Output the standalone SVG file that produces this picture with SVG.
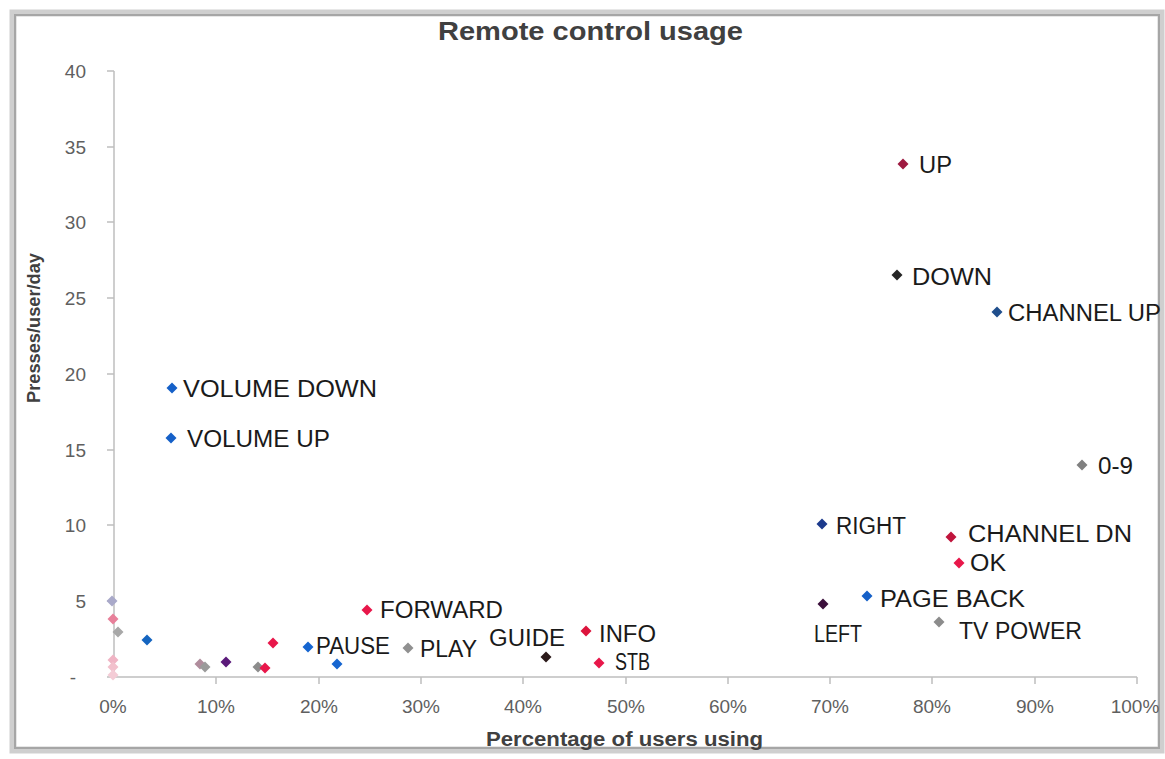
<svg xmlns="http://www.w3.org/2000/svg" width="1165" height="759" viewBox="0 0 1165 759">
<style>
.frame{fill:#ffffff;stroke:#cfcfcf;stroke-width:7}
.frame2{fill:none;stroke:#a6a6a6;stroke-width:2}
.axis{stroke:#bfbfbf;stroke-width:1.5;fill:none}
.tick{font-family:"Liberation Sans",Arial,sans-serif;font-size:19px;fill:#5f5f5f}
.ttl{font-family:"Liberation Sans",Arial,sans-serif;font-weight:bold;fill:#404040}
.lbl{font-family:"Liberation Sans",Arial,sans-serif;font-size:23px;fill:#1a1a1a}
</style>
<defs>
<path id="d" d="M0,-5.5 L5.5,0 L0,5.5 L-5.5,0 Z"/>
</defs>
<rect width="1165" height="759" fill="#ffffff"/>
<rect class="frame" x="13" y="13" width="1148" height="737"/>
<rect class="frame2" x="15" y="15" width="1144" height="733"/>
<text class="ttl" x="438" y="40" font-size="26" textLength="305" lengthAdjust="spacingAndGlyphs">Remote control usage</text>
<g id="axes">
<path class="axis" d="M114,71 V677 H1137"/>
<path class="axis" d="M107,71 H114 M107,147 H114 M107,222 H114 M107,298 H114 M107,374 H114 M107,450 H114 M107,525 H114 M107,601 H114 M107,677 H114"/>
<path class="axis" d="M216,677 V684 M319,677 V684 M421,677 V684 M523,677 V684 M626,677 V684 M728,677 V684 M830,677 V684 M932,677 V684 M1035,677 V684 M1137,677 V684"/>
<g class="tick" text-anchor="end">
<text x="86" y="78">40</text>
<text x="86" y="154">35</text>
<text x="86" y="229">30</text>
<text x="86" y="305">25</text>
<text x="86" y="381">20</text>
<text x="86" y="457">15</text>
<text x="86" y="532">10</text>
<text x="86" y="608">5</text>
<text x="76" y="684">-</text>
</g>
<g class="tick" text-anchor="middle">
<text x="113" y="713">0%</text>
<text x="216" y="713">10%</text>
<text x="319" y="713">20%</text>
<text x="421" y="713">30%</text>
<text x="523" y="713">40%</text>
<text x="626" y="713">50%</text>
<text x="728" y="713">60%</text>
<text x="830" y="713">70%</text>
<text x="932" y="713">80%</text>
<text x="1035" y="713">90%</text>
<text x="1135" y="713">100%</text>
</g>
<text class="ttl" x="486" y="746" font-size="20" textLength="277" lengthAdjust="spacingAndGlyphs">Percentage of users using</text>
<text class="ttl" x="40" y="328" font-size="18" text-anchor="middle" transform="rotate(-90 40 328)" textLength="150" lengthAdjust="spacingAndGlyphs">Presses/user/day</text>
</g>
<g id="unlabelled">
<use href="#d" x="112" y="601" fill="#a9a9c9"/>
<use href="#d" x="113" y="619" fill="#e8809a"/>
<use href="#d" x="118" y="632" fill="#a8a8a8"/>
<use href="#d" x="113" y="660" fill="#f0b4c4"/>
<use href="#d" x="113" y="667" fill="#f2c0cc"/>
<use href="#d" x="113" y="675" fill="#f4ccd6"/>
<use href="#d" x="147" y="640" fill="#1565c0"/>
<use href="#d" x="200" y="664" fill="#b08c9c"/>
<use href="#d" x="205" y="667" fill="#9a9a9a"/>
<use href="#d" x="226" y="662" fill="#5b1a7a"/>
<use href="#d" x="258" y="667" fill="#8c8c8c"/>
<use href="#d" x="265" y="668" fill="#e8174a"/>
<use href="#d" x="273" y="643" fill="#e8174a"/>
<use href="#d" x="337" y="664" fill="#1565d0"/>
</g>
<g id="node-up"><use href="#d" x="903" y="164" fill="#9e1a40"/><text class="lbl" x="919" y="173" textLength="33" lengthAdjust="spacingAndGlyphs">UP</text></g>
<g id="node-down"><use href="#d" x="897" y="275" fill="#262626"/><text class="lbl" x="912" y="285" textLength="80" lengthAdjust="spacingAndGlyphs">DOWN</text></g>
<g id="node-channel-up"><use href="#d" x="997" y="312" fill="#1f4e8c"/><text class="lbl" x="1008" y="321" textLength="153" lengthAdjust="spacingAndGlyphs">CHANNEL UP</text></g>
<g id="node-volume-down"><use href="#d" x="172" y="388" fill="#1560c8"/><text class="lbl" x="183" y="397" textLength="194" lengthAdjust="spacingAndGlyphs">VOLUME DOWN</text></g>
<g id="node-volume-up"><use href="#d" x="171" y="438" fill="#1560c8"/><text class="lbl" x="187" y="447" textLength="143" lengthAdjust="spacingAndGlyphs">VOLUME UP</text></g>
<g id="node-0-9"><use href="#d" x="1082" y="465" fill="#808080"/><text class="lbl" x="1098" y="474" textLength="35" lengthAdjust="spacingAndGlyphs">0-9</text></g>
<g id="node-right"><use href="#d" x="822" y="524" fill="#1c3a8c"/><text class="lbl" x="836" y="534" textLength="70" lengthAdjust="spacingAndGlyphs">RIGHT</text></g>
<g id="node-channel-dn"><use href="#d" x="951" y="537" fill="#c0143c"/><text class="lbl" x="968" y="542" textLength="164" lengthAdjust="spacingAndGlyphs">CHANNEL DN</text></g>
<g id="node-ok"><use href="#d" x="959" y="563" fill="#e8174a"/><text class="lbl" x="970" y="571" textLength="36" lengthAdjust="spacingAndGlyphs">OK</text></g>
<g id="node-page-back"><use href="#d" x="867" y="596" fill="#1560c8"/><text class="lbl" x="880" y="607" textLength="145" lengthAdjust="spacingAndGlyphs">PAGE BACK</text></g>
<g id="node-left"><use href="#d" x="823" y="604" fill="#3b0f3b"/><text class="lbl" x="814" y="642" textLength="48" lengthAdjust="spacingAndGlyphs">LEFT</text></g>
<g id="node-tv-power"><use href="#d" x="939" y="622" fill="#8c8c8c"/><text class="lbl" x="959" y="639" textLength="123" lengthAdjust="spacingAndGlyphs">TV POWER</text></g>
<g id="node-forward"><use href="#d" x="367" y="610" fill="#e8174a"/><text class="lbl" x="380" y="618" textLength="123" lengthAdjust="spacingAndGlyphs">FORWARD</text></g>
<g id="node-pause"><use href="#d" x="308" y="647" fill="#1565d0"/><text class="lbl" x="316" y="654" textLength="74" lengthAdjust="spacingAndGlyphs">PAUSE</text></g>
<g id="node-play"><use href="#d" x="408" y="648" fill="#909090"/><text class="lbl" x="420" y="657" textLength="57" lengthAdjust="spacingAndGlyphs">PLAY</text></g>
<g id="node-guide"><use href="#d" x="546" y="657" fill="#2b1a1a"/><text class="lbl" x="489" y="646" textLength="76" lengthAdjust="spacingAndGlyphs">GUIDE</text></g>
<g id="node-info"><use href="#d" x="586" y="631" fill="#dc143c"/><text class="lbl" x="599" y="642" textLength="57" lengthAdjust="spacingAndGlyphs">INFO</text></g>
<g id="node-stb"><use href="#d" x="599" y="663" fill="#e8174a"/><text class="lbl" x="615" y="670" textLength="35" lengthAdjust="spacingAndGlyphs">STB</text></g>
<g id="connectors"></g>
</svg>
